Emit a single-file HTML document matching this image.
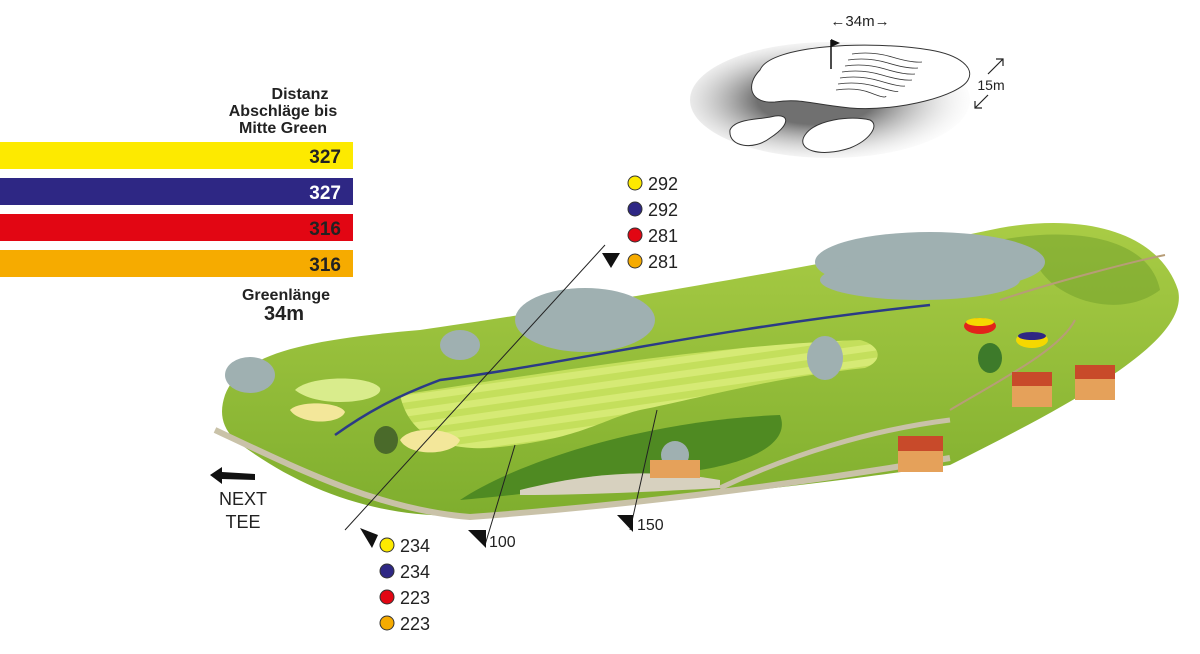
<!DOCTYPE html>
<html><head><meta charset="utf-8"><style>
body{margin:0;width:1200px;height:649px;background:#fff;overflow:hidden;font-family:"Liberation Sans",sans-serif}
</style></head><body>
<svg width="1200" height="649" viewBox="0 0 1200 649" xmlns="http://www.w3.org/2000/svg">
<defs>
<radialGradient id="sh" cx="0.45" cy="0.5" r="0.6"><stop offset="0.35" stop-color="#333"/><stop offset="1" stop-color="#fff" stop-opacity="0"/></radialGradient>
<linearGradient id="g1" x1="0" y1="0" x2="0" y2="1"><stop offset="0" stop-color="#a9cc45"/><stop offset="1" stop-color="#7fae2e"/></linearGradient>
<pattern id="st" width="14" height="14" patternUnits="userSpaceOnUse" patternTransform="rotate(-8)"><rect width="14" height="14" fill="#c4df5c"/><rect width="14" height="7" fill="#d6ea75"/></pattern>
</defs>
<g font-weight="bold" text-anchor="end">
<text x="300" y="99" font-size="16" text-anchor="middle" fill="#222">Distanz</text>
<text x="283" y="116" font-size="16" text-anchor="middle" fill="#222">Abschläge bis</text>
<text x="283" y="133" font-size="16" text-anchor="middle" fill="#222">Mitte Green</text>
<rect x="0" y="142" width="353" height="27" fill="#fdea00"/>
<rect x="0" y="178" width="353" height="27" fill="#2e2784"/>
<rect x="0" y="214" width="353" height="27" fill="#e20613"/>
<rect x="0" y="250" width="353" height="27" fill="#f6ab00"/>
<text x="341" y="163" font-size="19" fill="#222">327</text>
<text x="341" y="199" font-size="19" fill="#fff">327</text>
<text x="341" y="235" font-size="19" fill="#222">316</text>
<text x="341" y="271" font-size="19" fill="#222">316</text>
<text x="286" y="300" font-size="16" text-anchor="middle" fill="#222">Greenlänge</text>
<text x="284" y="320" font-size="20" text-anchor="middle" fill="#222">34m</text>
</g>
<ellipse cx="830" cy="100" rx="140" ry="58" fill="url(#sh)" opacity="0.7"/>
<path d="M760 70 C770 45 870 40 930 50 C960 55 975 68 968 80 C960 95 900 112 850 108 C810 104 800 98 775 102 C750 104 745 85 760 70Z" fill="#fff" stroke="#333"/>
<path d="M730 130 C735 118 760 120 775 116 C790 114 790 125 770 138 C755 150 728 148 730 130Z" fill="#fff" stroke="#333"/>
<path d="M805 135 C815 120 850 115 870 120 C880 125 870 140 850 148 C820 158 795 150 805 135Z" fill="#fff" stroke="#333"/>
<g stroke="#333" fill="none" stroke-width="0.8">
<path d="M852 54 q20 -3 40 3 t30 5"/><path d="M848 60 q20 -3 40 3 t30 5"/><path d="M845 66 q20 -3 40 3 t30 5"/><path d="M842 72 q20 -3 40 3 t30 5"/><path d="M840 78 q20 -3 40 3 t25 5"/><path d="M838 84 q20 -3 40 3 t20 4"/><path d="M836 90 q20 -3 35 3 t15 3"/>
</g>
<line x1="831" y1="40" x2="831" y2="69" stroke="#111" stroke-width="1.5"/><path d="M831 39 L840 43 L831 47Z" fill="#111"/>
<text x="860" y="26" font-size="15" text-anchor="middle" fill="#222">←34m→</text>
<text x="991" y="90" font-size="14" text-anchor="middle" fill="#222">15m</text>
<g stroke="#222" stroke-width="1.2" fill="none"><path d="M988 74 L1003 59 M996 59 L1003 59 L1003 66"/><path d="M988 95 L975 108 M975 101 L975 108 L982 108"/></g>
<path d="M225 395 C240 355 300 340 420 330 C560 310 800 270 1000 228 C1090 212 1160 235 1178 290 C1190 340 1080 400 950 465 C850 480 650 505 470 515 C380 520 300 490 235 440 C220 425 220 410 225 395Z" fill="url(#g1)"/>
<path d="M1000 240 C1080 225 1150 240 1160 290 C1120 320 1060 300 1040 270Z" fill="#6f9e2a" opacity="0.5"/>
<path d="M460 500 C520 460 650 420 780 415 C790 440 760 460 700 470 C600 485 520 495 460 500Z" fill="#4f8a22"/>
<path d="M520 490 C600 470 660 470 720 480 L720 488 C650 492 580 495 520 495Z" fill="#d7d1bf"/>
<path d="M400 395 C560 370 720 345 860 340 C880 345 885 360 865 368 C770 378 700 398 640 410 C600 420 580 440 490 448 C450 450 410 440 400 395Z" fill="url(#st)"/>
<path d="M295 390 C310 375 370 375 380 388 C385 402 320 410 295 390Z" fill="#d9ec8c"/>
<path d="M290 410 C300 400 340 402 345 412 C340 425 300 425 290 410Z" fill="#f3e79a"/>
<path d="M400 440 C410 425 450 428 460 440 C455 455 410 458 400 440Z" fill="#f3e79a"/>
<path d="M335 435 C370 410 400 395 440 380 C560 365 700 330 930 305" stroke="#2b3b86" stroke-width="2.5" fill="none"/>
<path d="M215 430 C300 470 380 510 470 517 C700 500 880 470 950 458" stroke="#c9c2a8" stroke-width="6" fill="none"/>
<path d="M720 488 C790 455 870 430 950 420" stroke="#c9c2a8" stroke-width="5" fill="none"/>
<path d="M1000 300 C1060 280 1140 260 1165 255" stroke="#b79d77" stroke-width="2" fill="none"/>
<path d="M950 410 C1000 380 1060 350 1075 320" stroke="#b79d77" stroke-width="2" fill="none"/>
<g fill="#9fb0b1">
<ellipse cx="930" cy="262" rx="115" ry="30"/><ellipse cx="920" cy="280" rx="100" ry="20"/>
<ellipse cx="585" cy="320" rx="70" ry="32"/><ellipse cx="825" cy="358" rx="18" ry="22"/>
<ellipse cx="460" cy="345" rx="20" ry="15"/><ellipse cx="250" cy="375" rx="25" ry="18"/>
<ellipse cx="675" cy="455" rx="14" ry="14"/>
</g>
<ellipse cx="386" cy="440" rx="12" ry="14" fill="#4a6a2a"/>
<ellipse cx="990" cy="358" rx="12" ry="15" fill="#3d7a2a"/>
<ellipse cx="980" cy="326" rx="16" ry="8" fill="#e2231a"/><ellipse cx="980" cy="322" rx="14" ry="4" fill="#f5d800"/>
<ellipse cx="1032" cy="340" rx="16" ry="8" fill="#f5d800"/><ellipse cx="1032" cy="336" rx="14" ry="4" fill="#2e2784"/>
<g fill="#e5a15a"><rect x="1012" y="385" width="40" height="22"/><rect x="1075" y="375" width="40" height="25"/><rect x="898" y="450" width="45" height="22"/><rect x="650" y="460" width="50" height="18"/></g>
<g fill="#c84a2a"><rect x="1012" y="372" width="40" height="14"/><rect x="1075" y="365" width="40" height="14"/><rect x="898" y="436" width="45" height="15"/></g>
<line x1="345" y1="530" x2="605" y2="245" stroke="#222"/>
<line x1="485" y1="545" x2="515" y2="445" stroke="#222"/>
<line x1="630" y1="530" x2="657" y2="410" stroke="#222"/>
<path d="M602 253 L620 253 L611 268Z" fill="#111"/>
<path d="M360 528 L378 535 L372 548Z" fill="#111"/>
<path d="M468 530 L486 530 L486 548Z" fill="#111"/>
<path d="M617 515 L633 515 L633 532Z" fill="#111"/>
<text x="489" y="547" font-size="16" fill="#222">100</text>
<text x="637" y="530" font-size="16" fill="#222">150</text>
<path d="M210 475 L222 467 L222 472 L255 474 L255 480 L222 479 L222 484Z" fill="#111"/>
<text x="243" y="505" font-size="18" text-anchor="middle" fill="#222">NEXT</text>
<text x="243" y="528" font-size="18" text-anchor="middle" fill="#222">TEE</text>
<g stroke="#333" stroke-width="1">
<circle cx="635" cy="183" r="7" fill="#fdea00"/><circle cx="635" cy="209" r="7" fill="#2e2784"/><circle cx="635" cy="235" r="7" fill="#e20613"/><circle cx="635" cy="261" r="7" fill="#f6ab00"/>
<circle cx="387" cy="545" r="7" fill="#fdea00"/><circle cx="387" cy="571" r="7" fill="#2e2784"/><circle cx="387" cy="597" r="7" fill="#e20613"/><circle cx="387" cy="623" r="7" fill="#f6ab00"/>
</g>
<g font-size="18" fill="#222">
<text x="648" y="190">292</text><text x="648" y="216">292</text><text x="648" y="242">281</text><text x="648" y="268">281</text>
<text x="400" y="552">234</text><text x="400" y="578">234</text><text x="400" y="604">223</text><text x="400" y="630">223</text>
</g>
</svg>
</body></html>
